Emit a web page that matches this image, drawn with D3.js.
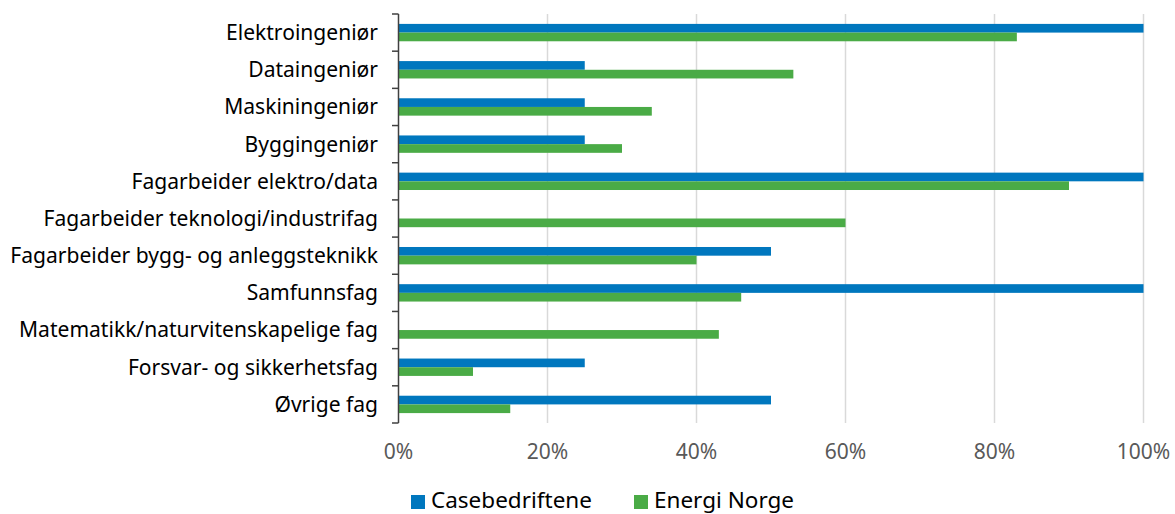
<!DOCTYPE html>
<html><head><meta charset="utf-8">
<script src="https://cdn.jsdelivr.net/npm/d3@7"></script>
<style>body{margin:0;background:#fff}svg{display:block}</style>
</head><body>
<svg id="c" width="1175" height="514"></svg>
<script>
const categories = ["Elektroingeniør","Dataingeniør","Maskiningeniør","Byggingeniør","Fagarbeider elektro/data","Fagarbeider teknologi/industrifag","Fagarbeider bygg- og anleggsteknikk","Samfunnsfag","Matematikk/naturvitenskapelige fag","Forsvar- og sikkerhetsfag","Øvrige fag"];
const seriesNames = ["Casebedriftene","Energi Norge"];
const casebedriftene = [1.00,0.25,0.25,0.25,1.00,0,0.50,1.00,0,0.25,0.50];
const energiNorge = [0.83,0.53,0.34,0.30,0.90,0.60,0.40,0.46,0.43,0.10,0.15];
const xTicks = [0,0.2,0.4,0.6,0.8,1.0];
const colors = ["#0077be","#4aab46"];

const svg = d3.select("#c");
const font = "'Noto Sans', sans-serif";
const x = d3.scaleLinear().domain([0,1]).range([398.5,1143.5]);
const y = d3.scaleBand().domain(categories).range([14,423]);
const ys = d3.scaleBand().domain(seriesNames).range([0,y.bandwidth()]).paddingOuter(1.14).paddingInner(0);

// gridlines
svg.append("g").selectAll("line").data(xTicks.filter(d=>d>0)).join("line")
  .attr("x1",d=>x(d)).attr("x2",d=>x(d)).attr("y1",14).attr("y2",423)
  .attr("stroke","#d9d9d9").attr("stroke-width",1.5);

// bars
const data = categories.map((c,i)=>({c, vals:[casebedriftene[i],energiNorge[i]]}));
const g = svg.append("g");
data.forEach(d=>{
  seriesNames.forEach((s,j)=>{
    g.append("rect").attr("x",x(0)).attr("y",y(d.c)+ys(s))
     .attr("width",x(d.vals[j])-x(0)).attr("height",ys.bandwidth())
     .attr("fill",colors[j]);
  });
});

// y axis
const ax = svg.append("g");
ax.append("line").attr("x1",398.5).attr("x2",398.5).attr("y1",14).attr("y2",423).attr("stroke","#404040").attr("stroke-width",1.5);
const bounds = categories.map(c=>y(c)).concat([y.range()[1]]);
ax.selectAll("line.t").data(bounds).join("line").attr("class","t")
  .attr("x1",392).attr("x2",398.5).attr("y1",d=>d).attr("y2",d=>d)
  .attr("stroke","#404040").attr("stroke-width",1.5);

const labels = ax.selectAll("text").data(categories).join("text")
  .attr("x",378).attr("y",d=>y(d)+y.bandwidth()/2).attr("dy","0.35em")
  .attr("text-anchor","end").attr("font-family",font).attr("font-size",18).attr("fill","#000")
  .text(d=>d);
let maxW = 0; labels.each(function(){maxW=Math.max(maxW,this.getComputedTextLength());});
const fs = 18*368/maxW;
labels.attr("font-size",fs);

// x tick labels
svg.append("g").selectAll("text").data(xTicks).join("text")
  .attr("x",d=>x(d)).attr("y",459).attr("text-anchor","middle")
  .attr("font-family",font).attr("font-size",21).attr("fill","#595959")
  .text(d=>d3.format(".0%")(d));

// legend
const leg = svg.append("g");
const lx = [411,634];
seriesNames.forEach((s,i)=>{
  leg.append("rect").attr("x",lx[i]).attr("y",495).attr("width",14).attr("height",14).attr("fill",colors[i]);
  leg.append("text").attr("x",lx[i]+20).attr("y",508).attr("font-family",font).attr("font-size",22.5).attr("fill","#000").text(s);
});
</script>
</body></html>
